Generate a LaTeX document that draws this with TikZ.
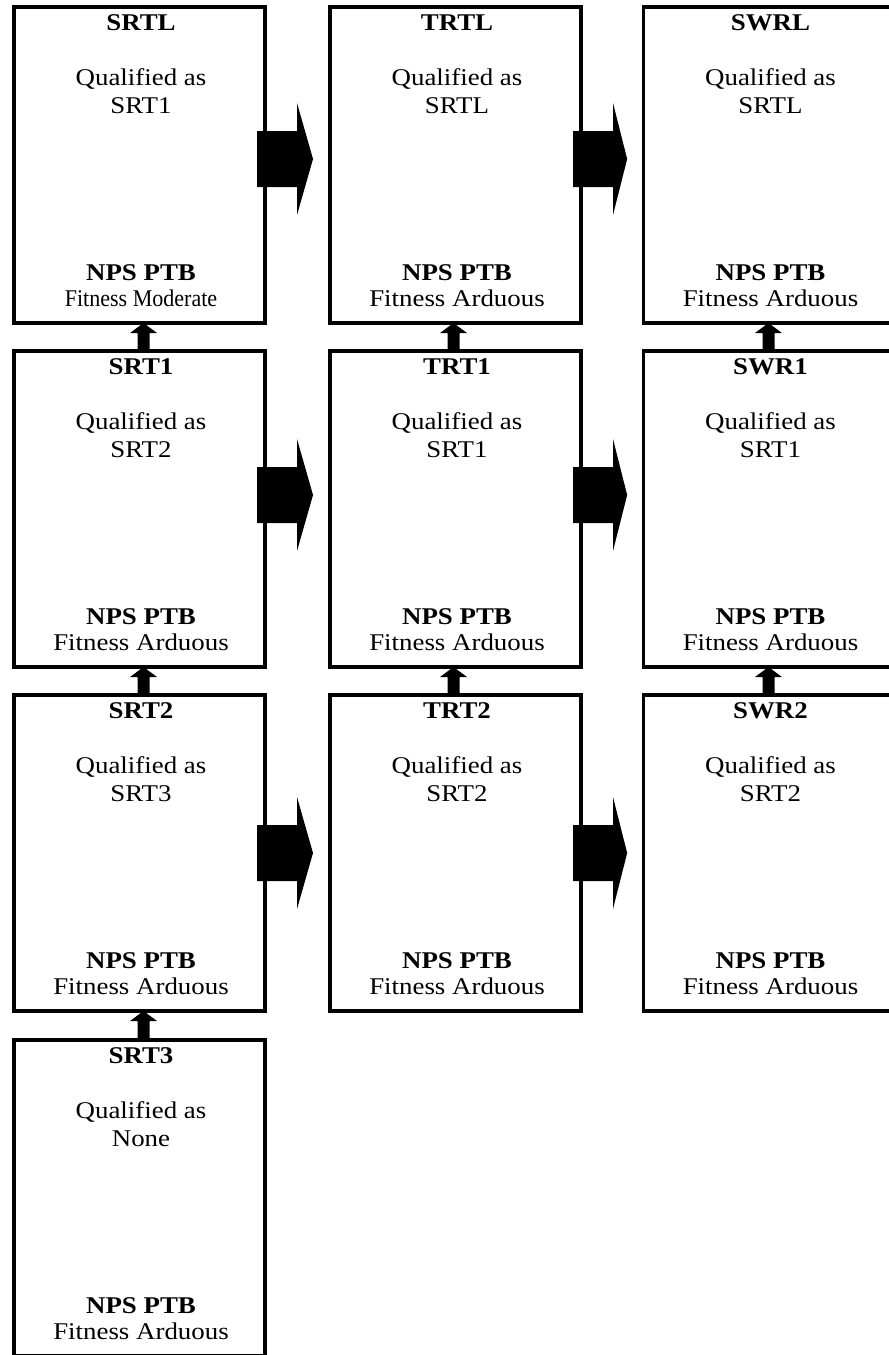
\documentclass[tikz,border=0pt]{standalone}
\usepackage{fontspec}
\setmainfont{Liberation Serif}[FakeStretch=1.12]
\usetikzlibrary{calc}
\newcommand\mkpanel[9]{%
  % #1 name, #2 x, #3 y (centre), #4 title, #5 qual line, #6 fitness, #7 text dx
  \node[panel] (#1) at (#2,#3) {};
  \node[ttl] (#1-t) at ($(#1.north)+(#7,23)$) {#4};
  \node[lbl] (#1-q1) at ($(#1.north)+(#7,78)$) {Qualified as};
  \node[lbl] (#1-q2) at ($(#1.north)+(#7,106)$) {#5};
  \node[ttl] (#1-n) at ($(#1.north)+(#7,273)$) {NPS PTB};
  \node[lbl] (#1-f) at ($(#1.north)+(#7,299)$) {#6};
}
\newcommand\rarrow[3]{% #1 from, #2 to, #3 dy
  \coordinate (#1-#2-c) at ($(#1.east)+(0,#3)$);
  \fill[blockarrow] ($(#1-#2-c)+(-8,-28)$) -- ($(#1-#2-c)+(32,-28)$) -- ($(#1-#2-c)+(32,-56)$)
    -- ($(#1-#2-c)!48/65!(#1-#2-c -| #2.west)$) -- ($(#1-#2-c)+(32,56)$) -- ($(#1-#2-c)+(32,28)$)
    -- ($(#1-#2-c)+(-8,28)$) -- cycle;
}
\newcommand\uarrow[3]{% #1 lower, #2 upper, #3 dx
  \fill[blockarrow] ($(#2.south)+(#3,0)$) -- ($(#2.south)+(#3+13.5,10)$) -- ($(#2.south)+(#3+6,10)$)
    -- ($(#1.north)+(#3+6,1)$) -- ($(#1.north)+(#3-6,1)$) -- ($(#2.south)+(#3-6,10)$)
    -- ($(#2.south)+(#3-13.5,10)$) -- cycle;
}
\begin{document}
\begin{tikzpicture}[x=1pt,y=-1pt,
  panel/.style={draw,fill=white,line width=3.5pt,minimum width=251pt,minimum height=316pt,inner sep=0pt,outer sep=0pt},
  lbl/.style={anchor=base,inner sep=0pt,font=\fontsize{24}{27}\selectfont},
  ttl/.style={lbl,font=\fontsize{24}{27}\selectfont\bfseries},
  blockarrow/.style={fill=black,draw=none}]
\fill[white] (0,0) rectangle (889,1355);
\useasboundingbox (0,0) rectangle (889,1355);
% column 1
\mkpanel{srtl}{139.5}{165}{SRTL}{SRT1}{\scalebox{0.82}[1]{Fitness Moderate}}{1.5}{}{}
\mkpanel{srt1}{139.5}{509}{SRT1}{SRT2}{Fitness Arduous}{1.5}{}{}
\mkpanel{srt2}{139.5}{853}{SRT2}{SRT3}{Fitness Arduous}{1.5}{}{}
\mkpanel{srt3}{139.5}{1198}{SRT3}{None}{Fitness Arduous}{1.5}{}{}
% column 2
\mkpanel{trtl}{455.5}{165}{TRTL}{SRTL}{Fitness Arduous}{1.5}{}{}
\mkpanel{trt1}{455.5}{509}{TRT1}{SRT1}{Fitness Arduous}{1.5}{}{}
\mkpanel{trt2}{455.5}{853}{TRT2}{SRT2}{Fitness Arduous}{1.5}{}{}
% column 3
\mkpanel{swrl}{769}{165}{SWRL}{SRTL}{Fitness Arduous}{1.5}{}{}
\mkpanel{swr1}{769}{509}{SWR1}{SRT1}{Fitness Arduous}{1.5}{}{}
\mkpanel{swr2}{769}{853}{SWR2}{SRT2}{Fitness Arduous}{1.5}{}{}
% right arrows
\rarrow{srtl}{trtl}{-6}
\rarrow{trtl}{swrl}{-6}
\rarrow{srt1}{trt1}{-14}
\rarrow{trt1}{swr1}{-14}
\rarrow{srt2}{trt2}{0}
\rarrow{trt2}{swr2}{0}
% up arrows
\uarrow{srt1}{srtl}{4}
\uarrow{srt2}{srt1}{4}
\uarrow{srt3}{srt2}{4}
\uarrow{trt1}{trtl}{-2}
\uarrow{trt2}{trt1}{-2}
\uarrow{swr1}{swrl}{-0.5}
\uarrow{swr2}{swr1}{-0.5}
\end{tikzpicture}
\end{document}
